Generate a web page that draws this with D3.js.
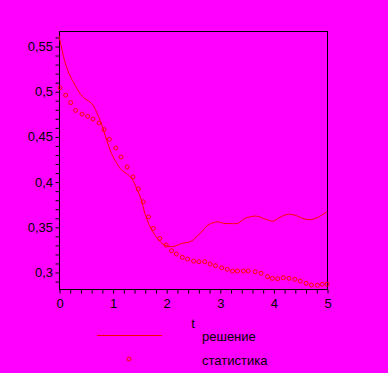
<!DOCTYPE html>
<html>
<head>
<meta charset="utf-8">
<script src="https://cdn.jsdelivr.net/npm/d3@7"></script>
<style>
  html, body { margin: 0; padding: 0; background: #ff00ff; }
  svg { display: block; }
  text { font-family: "Liberation Sans", Arial, sans-serif; fill: #000; }
</style>
</head>
<body>
<script>
// решение (solution curve)
const solT = [0, 0.11, 0.2, 0.3, 0.39, 0.48, 0.61, 0.7, 0.8, 0.89, 0.98, 1.08, 1.17, 1.26, 1.36, 1.45, 1.54, 1.6, 1.7, 1.79, 1.92, 2.0, 2.07, 2.18, 2.29, 2.41, 2.5, 2.6, 2.69, 2.78, 2.87, 2.97, 3.07, 3.2, 3.34, 3.38, 3.47, 3.56, 3.69, 3.81, 3.9, 4.0, 4.09, 4.18, 4.28, 4.4, 4.5, 4.59, 4.71, 4.81, 4.9, 5.0];
const solV = [0.5616, 0.5326, 0.5178, 0.5067, 0.4976, 0.492, 0.4865, 0.477, 0.4626, 0.4457, 0.431, 0.42, 0.4126, 0.409, 0.4034, 0.392, 0.3795, 0.365, 0.35, 0.3408, 0.3317, 0.329, 0.328, 0.329, 0.3317, 0.3328, 0.3353, 0.341, 0.3464, 0.352, 0.3544, 0.3555, 0.3538, 0.3536, 0.3538, 0.3555, 0.3593, 0.361, 0.3618, 0.3593, 0.3574, 0.3563, 0.3593, 0.3621, 0.364, 0.3629, 0.3604, 0.3585, 0.358, 0.36, 0.3629, 0.3668];

// статистика (observed points)
const statT = [0.02, 0.125, 0.218, 0.31, 0.43, 0.535, 0.634, 0.746, 0.84, 0.94, 1.06, 1.157, 1.27, 1.38, 1.48, 1.57, 1.67, 1.76, 1.88, 2.0, 2.1, 2.19, 2.3, 2.4, 2.51, 2.61, 2.72, 2.82, 2.92, 3.035, 3.14, 3.24, 3.33, 3.44, 3.53, 3.66, 3.77, 3.89, 3.98, 4.08, 4.185, 4.29, 4.4, 4.5, 4.61, 4.71, 4.82, 4.91, 5.0];
const statV = [0.5039, 0.4957, 0.4873, 0.4788, 0.4747, 0.4722, 0.4692, 0.4648, 0.4575, 0.4468, 0.4372, 0.4273, 0.4162, 0.4052, 0.3919, 0.3776, 0.361, 0.3482, 0.3372, 0.3298, 0.3235, 0.3199, 0.3162, 0.3143, 0.3121, 0.3114, 0.3114, 0.3088, 0.307, 0.3047, 0.303, 0.3011, 0.3011, 0.3011, 0.3011, 0.3003, 0.2986, 0.2948, 0.293, 0.2926, 0.2937, 0.293, 0.292, 0.29, 0.2875, 0.2856, 0.2853, 0.2864, 0.2864];

const xLabels = [0, 1, 2, 3, 4, 5];
const yLabels = [0.3, 0.35, 0.4, 0.45, 0.5, 0.55];
const legendNames = ["решение", "статистика"];
const xTitle = "t";

const width = 388, height = 373;
const svg = d3.select("body").append("svg")
  .attr("width", width)
  .attr("height", height);

const x = d3.scaleLinear().domain([0, 5]).range([59, 327]);
const y = d3.scaleLinear().domain([0.2812, 0.5666]).range([289, 31]);

const fmt = d => String(d).replace(".", ",");

// frame
svg.append("rect")
  .attr("x", x(0) + 0.5).attr("y", y(0.5666) + 0.5)
  .attr("width", x(5) - x(0)).attr("height", y(0.2812) - y(0.5666))
  .attr("fill", "none").attr("stroke", "#000").attr("stroke-width", 1);

// y axis
const yAxis = svg.append("g")
  .attr("transform", `translate(${x(0) + 0.5},0.5)`)
  .call(d3.axisLeft(y).tickValues(d3.range(29, 57).map(d => d / 100)).tickSize(4).tickFormat(""));
yAxis.select(".domain").remove();
svg.append("g").selectAll("text")
  .data(yLabels).enter().append("text")
  .attr("x", 53).attr("y", d => y(d) + 5)
  .attr("text-anchor", "end")
  .attr("font-size", 13)
  .text(fmt);

// x axis
const xAxis = svg.append("g")
  .attr("transform", `translate(0.5,${y(0.2812) + 0.5})`)
  .call(d3.axisBottom(x).tickValues(d3.range(0, 26).map(d => d / 5)).tickSize(4).tickFormat(""));
xAxis.select(".domain").remove();
svg.append("g").selectAll("text")
  .data(xLabels).enter().append("text")
  .attr("x", d => x(d) + 1).attr("y", 308)
  .attr("text-anchor", "middle")
  .attr("font-size", 13)
  .text(d => d);

svg.selectAll(".tick line").attr("stroke", "#000");

svg.append("text")
  .attr("x", 193).attr("y", 328)
  .attr("text-anchor", "middle")
  .attr("font-size", 13)
  .text(xTitle);

// solution line
const line = d3.line()
  .x((d, i) => x(solT[i]))
  .y(d => y(d))
  .curve(d3.curveCatmullRom);
svg.append("path")
  .datum(solV)
  .attr("d", line)
  .attr("fill", "none")
  .attr("stroke", "#ff0000")
  .attr("stroke-width", 1);

// statistic points
svg.append("g").selectAll("circle")
  .data(statV).enter().append("circle")
  .attr("cx", (d, i) => x(statT[i]))
  .attr("cy", d => y(d))
  .attr("r", 2)
  .attr("fill", "none")
  .attr("stroke", "#ff0000")
  .attr("stroke-width", 1);

// legend
svg.append("line")
  .attr("x1", 97).attr("x2", 162)
  .attr("y1", 335.5).attr("y2", 335.5)
  .attr("stroke", "#ff0000").attr("stroke-width", 1);
svg.append("circle")
  .attr("cx", 129).attr("cy", 359).attr("r", 2)
  .attr("fill", "none").attr("stroke", "#ff0000").attr("stroke-width", 1);
svg.append("g").selectAll("text")
  .data(legendNames).enter().append("text")
  .attr("x", 202).attr("y", (d, i) => 341 + i * 24)
  .attr("font-size", 13)
  .text(d => d);
</script>
</body>
</html>
